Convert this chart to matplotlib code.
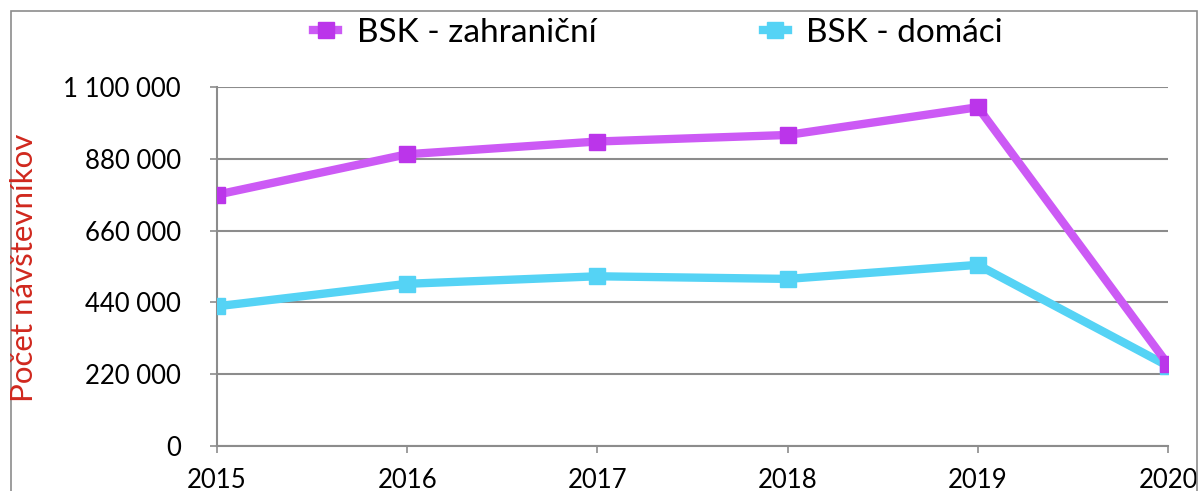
import matplotlib
matplotlib.use("Agg")
import matplotlib.pyplot as plt
import matplotlib.patches as mpatches
from matplotlib.ticker import FuncFormatter

years = ["2015", "2016", "2017", "2018", "2019", "2020"]
zahranicni = [770000, 894000, 933000, 953000, 1038000, 250000]
domaci = [428000, 497000, 520000, 512000, 555000, 245000]
y_ticks = [0, 220000, 440000, 660000, 880000, 1100000]

plt.rcParams['font.family'] = ['Lato', 'DejaVu Sans']

fig = plt.figure(figsize=(12.03, 4.91), dpi=100)
ax = fig.add_axes([217 / 1203, 45 / 491, (1168 - 217) / 1203, (446 - 87) / 491])

# outer chart border (bottom edge runs off the picture)
fig.patches.append(mpatches.Rectangle((11 / 1203, -0.1), (1197 - 11) / 1203, 1.1 - 11 / 491,
                                      transform=fig.transFigure, fill=False,
                                      edgecolor='#8c8c8c', linewidth=1.2))

x = list(range(len(years)))
ax.plot(x, zahranicni, color='#cc5af5', linewidth=6, marker='s', markersize=11,
        markerfacecolor='#bb35ea', markeredgecolor='#bb35ea', label='BSK - zahraniční',
        solid_joinstyle='miter', zorder=4)
ax.plot(x, domaci, color='#55d3f5', linewidth=6, marker='s', markersize=11,
        markerfacecolor='#55d3f5', markeredgecolor='#55d3f5', label='BSK - domáci',
        solid_joinstyle='miter', zorder=3)

ax.set_xlim(0, len(years) - 1)
ax.set_ylim(0, 1100000)
ax.set_xticks(x)
ax.set_xticklabels(years)
ax.set_yticks(y_ticks)
ax.yaxis.set_major_formatter(FuncFormatter(lambda v, p: f"{int(v):,}".replace(",", " ")))

ax.grid(axis='y', color='#8c8c8c', linewidth=1.5)
ax.set_axisbelow(True)
for s in ['top', 'right']:
    ax.spines[s].set_visible(False)
for s in ['left', 'bottom']:
    ax.spines[s].set_color('#8c8c8c')
    ax.spines[s].set_linewidth(1.5)
ax.tick_params(axis='both', colors='#8c8c8c', labelcolor='black', labelsize=18.5,
               length=5, width=1.2)
ax.tick_params(axis='x', pad=11)
ax.tick_params(axis='y', pad=21)

fig.text(24 / 1203, 1 - 268 / 491, 'Počet návštevníkov', rotation=90, color='#d0281e',
         fontsize=22.5, ha='center', va='center')

fig.legend(loc='center', bbox_to_anchor=(658 / 1203, 1 - 33 / 491), ncol=2, frameon=False,
           fontsize=24, handlelength=0.75, handletextpad=0.55, columnspacing=5.0)

fig.savefig("out.png", dpi=100)
